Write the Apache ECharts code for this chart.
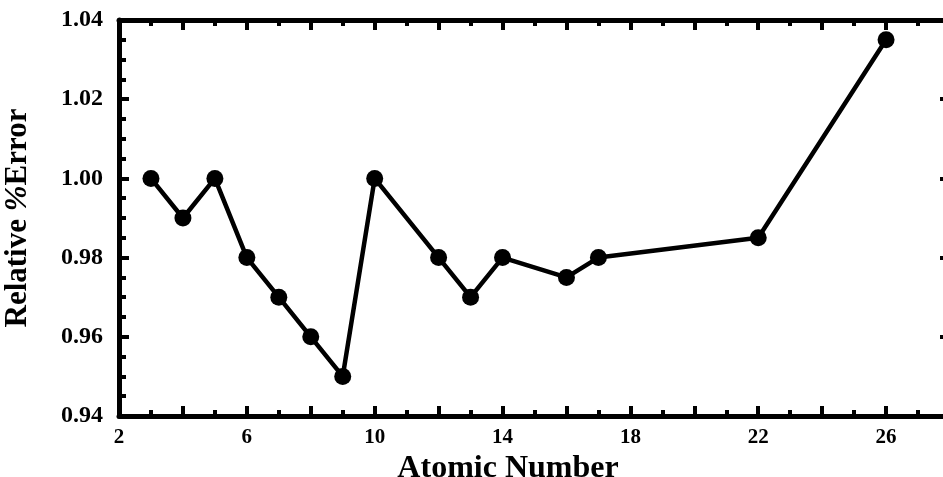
<!DOCTYPE html>
<html>
<head>
<meta charset="utf-8">
<script src="https://cdn.jsdelivr.net/npm/echarts@6/dist/echarts.min.js"></script>
<style>
  html, body { margin: 0; padding: 0; background: #fff; overflow: hidden; }
  /* plot runs past the right edge of the window, like the scanned figure */
  #chart { width: 960px; height: 477px; }
</style>
</head>
<body>
<div id="chart"></div>
<script>
// atomic number vs relative % error
var atomicNumbers = [3, 4, 5, 6, 7, 8, 9, 10, 12, 13, 14, 16, 17, 22, 26];
var relErrors = [1.00, 0.99, 1.00, 0.98, 0.97, 0.96, 0.95, 1.00, 0.98, 0.97, 0.98, 0.975, 0.98, 0.985, 1.035];
var xLabels = [2, 6, 10, 14, 18, 22, 26];
var yLabels = ['0.94', '0.96', '0.98', '1.00', '1.02', '1.04'];

function renderChart(dom) {
    if (!dom) return;
    var myChart = echarts.init(dom);
    var font = '"Liberation Serif", "DejaVu Serif", serif';
    var lineStyle = { color: '#000', width: 5 };
    var majorTick = { show: true, inside: true, length: 10, lineStyle: { color: '#000', width: 4 } };
    var minorTick = { show: true, splitNumber: 2, length: 6, lineStyle: { color: '#000', width: 4 } };
    var yMinorTick = { show: true, splitNumber: 4, length: 7, lineStyle: { color: '#000', width: 4 } };

    var data = atomicNumbers.map(function (x, i) { return [x, relErrors[i]]; });

    var option = {
        backgroundColor: '#fff',
        animation: false,
        grid: { left: 119, top: 20, right: 10, bottom: 61, containLabel: false, outerBoundsMode: 'none' },
        xAxis: [
            {
                type: 'value',
                min: 2, max: 28, interval: 2,
                axisLine: { show: true, onZero: false, lineStyle: lineStyle },
                axisTick: majorTick,
                minorTick: minorTick,
                splitLine: { show: false },
                axisLabel: {
                    color: '#000', fontFamily: font, fontWeight: 'bold', fontSize: 21, margin: 11,
                    formatter: function (v) { return xLabels.indexOf(v) >= 0 ? String(v) : ''; }
                },
                name: 'Atomic Number',
                nameLocation: 'middle',
                nameGap: 34,
                nameTextStyle: { color: '#000', fontFamily: font, fontWeight: 'bold', fontSize: 32, padding: [0, 53, 0, 0] }
            },
            {
                type: 'value', position: 'top',
                min: 2, max: 28, interval: 2,
                axisLine: { show: true, onZero: false, lineStyle: lineStyle },
                axisTick: majorTick,
                minorTick: minorTick,
                splitLine: { show: false },
                axisLabel: { show: false }
            }
        ],
        yAxis: [
            {
                type: 'value',
                min: 0.94, max: 1.04, interval: 0.02,
                axisLine: { show: true, onZero: false, lineStyle: lineStyle },
                axisTick: majorTick,
                minorTick: yMinorTick,
                splitLine: { show: false },
                axisLabel: {
                    color: '#000', fontFamily: font, fontWeight: 'bold', fontSize: 24, margin: 16,
                    formatter: function (v) {
                        var s = v.toFixed(2);
                        return yLabels.indexOf(s) >= 0 ? s : '';
                    }
                },
                name: '{a|Relative }{i|%}{a|Error}',
                nameLocation: 'middle',
                nameGap: 86,
                nameTextStyle: {
                    color: '#000',
                    rich: {
                        a: { fontFamily: font, fontWeight: 'bold', fontSize: 31, color: '#000' },
                        i: { fontFamily: font, fontWeight: 'bold', fontStyle: 'italic', fontSize: 31, color: '#000' }
                    }
                }
            },
            {
                type: 'value', position: 'right',
                min: 0.94, max: 1.04, interval: 0.02,
                axisLine: { show: true, onZero: false, lineStyle: lineStyle },
                axisTick: majorTick,
                minorTick: yMinorTick,
                splitLine: { show: false },
                axisLabel: { show: false }
            }
        ],
        series: [
            {
                type: 'line',
                data: data,
                symbol: 'circle',
                symbolSize: 17,
                lineStyle: { color: '#000', width: 4.5 },
                itemStyle: { color: '#000' }
            }
        ]
    };

    option && myChart.setOption(option);
}

renderChart(document.getElementById('chart'));
</script>
</body>
</html>
